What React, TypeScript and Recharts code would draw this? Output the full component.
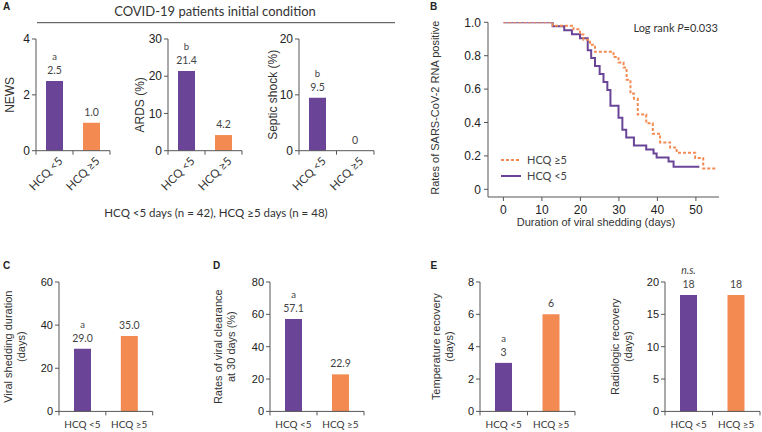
import React from "react";
import {
  BarChart, Bar, Cell, XAxis, YAxis, LabelList, LineChart, Line, Legend,
} from "recharts";

// groups and values
const groups = ["HCQ <5", "HCQ ≥5"];

const newsValues = [2.5, 1.0];
const ardsValues = [21.4, 4.2];
const septicValues = [9.5, 0];
const sheddingValues = [29.0, 35.0];
const clearanceValues = [57.1, 22.9];
const feverValues = [3, 6];
const radioValues = [18, 18];

const newsLabels = ["2.5", "1.0"];
const ardsLabels = ["21.4", "4.2"];
const septicLabels = ["9.5", "0"];
const sheddingLabels = ["29.0", "35.0"];
const clearanceLabels = ["57.1", "22.9"];
const feverLabels = ["3", "6"];
const radioLabels = ["18", "18"];

const newsMarks = ["a", ""];
const ardsMarks = ["b", ""];
const septicMarks = ["b", ""];
const sheddingMarks = ["a", ""];
const clearanceMarks = ["a", ""];
const feverMarks = ["a", ""];
const radioMarks = ["n.s.", ""];

const newsTicks = [0, 2, 4];
const ardsTicks = [0, 10, 20, 30];
const septicTicks = [0, 10, 20];
const sheddingTicks = [0, 20, 40, 60];
const clearanceTicks = [0, 20, 40, 60, 80];
const feverTicks = [0, 2, 4, 6, 8];
const radioTicks = [0, 5, 10, 15, 20];

// Kaplan-Meier steps (days, fraction still positive)
const lowDays = [0, 12.8, 15.8, 17.8, 19.9, 21.9, 22.8, 23.8, 25.0, 26.0, 27.0, 27.8, 29.9, 30.9, 31.9, 33.9, 37.1, 39.0, 39.8, 42.9, 44.2, 50.9];
const lowRates = [1.0, 0.976, 0.952, 0.929, 0.905, 0.833, 0.786, 0.738, 0.69, 0.643, 0.595, 0.5, 0.429, 0.357, 0.31, 0.262, 0.238, 0.214, 0.19, 0.167, 0.135, 0.135];
const highDays = [0, 12.8, 18.2, 19.9, 20.8, 22.5, 23.8, 28.6, 29.9, 31.2, 32.0, 33.0, 33.9, 34.9, 37.1, 38.8, 40.7, 43.3, 45.0, 49.8, 51.9, 55.2];
const highRates = [1.0, 0.979, 0.958, 0.927, 0.896, 0.865, 0.823, 0.792, 0.76, 0.729, 0.656, 0.573, 0.542, 0.448, 0.396, 0.333, 0.281, 0.25, 0.219, 0.188, 0.125, 0.125];
const kmDayTicks = [0, 10, 20, 30, 40, 50];
const kmRateTicks = [0, 0.2, 0.4, 0.6, 0.8, 1.0];

const PURPLE = "#6a4597";
const ORANGE = "#f28a52";
const INK = "#333";
const AXIS = "#555";
const ARIAL = "'Liberation Sans', Arial, sans-serif";
const HUMAN = "Lato, 'Noto Sans', sans-serif";

function CatTick(props: any) {
  const { x, y, payload, index, band, rotated, font } = props;
  const label = (
    rotated ? (
      <text x={x + 9} y={y + 11} transform={`rotate(-45 ${x + 9} ${y + 11})`}
        textAnchor="end" fontFamily={HUMAN} fontSize={font} fill={INK}>{payload.value}</text>
    ) : (
      <text x={x} y={y + 17} textAnchor="middle" fontFamily={HUMAN} fontSize={font} fill={INK}>{payload.value}</text>
    )
  );
  return (
    <g>
      <line x1={x - band / 2} x2={x - band / 2} y1={y} y2={y + 4} stroke={AXIS} />
      {index === 1 && <line x1={x + band / 2} x2={x + band / 2} y1={y} y2={y + 4} stroke={AXIS} />}
      {label}
    </g>
  );
}

function yTitle(lines: string[], dx: number, dy: number, font: number) {
  return (props: any) => {
    const vb = props.viewBox;
    const cx = vb.x + dx;
    const cy = vb.y + vb.height / 2 + dy;
    return (
      <text transform={`rotate(-90 ${cx} ${cy})`} x={cx} y={cy} textAnchor="middle"
        dominantBaseline="central" fontFamily={ARIAL} fontSize={font} fill={INK}>
        {lines.map((l, i) => (
          <tspan key={i} x={cx} dy={i === 0 ? 0 : font * 1.2}>{l}</tspan>
        ))}
      </text>
    );
  };
}

type PanelProps = {
  axisX: number; top: number; bottom: number; right: number;
  values: number[]; labels: string[]; marks: string[]; ticks: number[];
  title: string[]; titleX: number; titleDy?: number;
  rotated?: boolean; tickFont?: number; catFont?: number; titleFont?: number;
};

function BarPanel(p: PanelProps) {
  const YW = 60, MT = 30, MR = 6, XH = 50;
  const width = p.right - p.axisX + YW + MR;
  const height = p.bottom - p.top + MT + XH;
  const band = (p.right - p.axisX) / 2;
  const data = groups.map((g, i) => ({ g, v: p.values[i] }));
  const max = p.ticks[p.ticks.length - 1];
  const left = p.axisX - YW;
  const catFont = p.catFont ?? 10;
  return (
    <div style={{ position: "absolute", left, top: p.top - MT }}>
      <BarChart width={width} height={height} data={data} margin={{ top: MT, right: MR, left: 0, bottom: 0 }}>
        <XAxis dataKey="g" height={XH} tickSize={0} tickMargin={0} interval={0}
          axisLine={{ stroke: AXIS }}
          tick={(t: any) => <CatTick {...t} band={band} rotated={p.rotated} font={catFont} />} />
        <YAxis width={YW} type="number" domain={[0, max]} ticks={p.ticks} tickSize={4} tickMargin={2}
          axisLine={{ stroke: AXIS }} tickLine={{ stroke: AXIS }}
          tick={{ fill: "#222", fontSize: p.tickFont ?? 11, fontFamily: ARIAL }}
          label={yTitle(p.title, p.titleX - left, p.titleDy ?? 0, p.titleFont ?? 11)} />
        <Bar dataKey="v" barSize={17} minPointSize={0.01} isAnimationActive={false}>
          {data.map((d, i) => <Cell key={d.g} fill={i === 0 ? PURPLE : ORANGE} />)}
          <LabelList dataKey="v" content={(l: any) => {
            const cx = l.x + l.width / 2;
            const mark = p.marks[l.index];
            return (
              <g fontFamily={HUMAN} fill="#444" textAnchor="middle">
                <text x={cx} y={l.y - 7} fontSize={10.5}>{p.labels[l.index]}</text>
                {mark && <text x={cx} y={l.y - 21} fontSize={mark === "n.s." ? 10.5 : 9.5}
                  fontStyle={mark === "n.s." ? "italic" : "normal"}>{mark}</text>}
              </g>
            );
          }} />
        </Bar>
      </BarChart>
    </div>
  );
}

const lowData = lowDays.map((t, i) => ({ t, s: lowRates[i] }));
const highData = highDays.map((t, i) => ({ t, s: highRates[i] }));

function KmLegend(props: any) {
  const items = [...(props.payload || [])].reverse();
  return (
    <div style={{ fontFamily: HUMAN, fontSize: 11, color: "#444" }}>
      {items.map((it: any) => (
        <div key={it.value} style={{ display: "flex", alignItems: "center", height: 15.7 }}>
          <svg width={20} height={4} style={{ marginRight: 6 }}>
            <line x1={0} x2={20} y1={2} y2={2} stroke={it.color} strokeWidth={2}
              strokeDasharray={it.value === "HCQ ≥5" ? "3 2" : undefined} />
          </svg>
          <span>{it.value}</span>
        </div>
      ))}
    </div>
  );
}

function KmPanel() {
  return (
    <div style={{ position: "absolute", left: 420, top: 15 }}>
      <LineChart width={304} height={212} margin={{ top: 7.3, right: 5, left: 0, bottom: 0 }}>
        <XAxis dataKey="t" type="number" domain={[-4, 56]} ticks={kmDayTicks} height={30}
          tickSize={4} tickMargin={4} axisLine={{ stroke: AXIS }} tickLine={{ stroke: AXIS }}
          tick={{ fill: "#222", fontSize: 12, fontFamily: ARIAL }} allowDataOverflow />
        <YAxis type="number" domain={[-0.046, 1]} ticks={kmRateTicks} width={68}
          tickSize={4} tickMargin={3} axisLine={{ stroke: AXIS }} tickLine={{ stroke: AXIS }}
          tickFormatter={(v: number) => (v === 0 ? "0" : v.toFixed(1))}
          tick={{ fill: "#222", fontSize: 12, fontFamily: ARIAL }} allowDataOverflow
          label={yTitle(["Rates of SARS-CoV-2 RNA positive"], 15, -2, 11)} />
        <Line data={lowData} dataKey="s" name="HCQ <5" type="stepAfter" stroke={PURPLE}
          strokeWidth={2} dot={false} isAnimationActive={false} />
        <Line data={highData} dataKey="s" name="HCQ ≥5" type="stepAfter" stroke={ORANGE}
          strokeWidth={2} strokeDasharray="3 2" dot={false} isAnimationActive={false} />
        <Legend layout="vertical" align="center" verticalAlign="middle" content={<KmLegend />}
          wrapperStyle={{ left: 81, top: 137, width: 80 }} />
      </LineChart>
    </div>
  );
}

export default function App() {
  return (
    <div style={{ position: "absolute", left: 0, top: 0, width: 762, height: 432, background: "#fff", overflow: "hidden" }}>
      <BarPanel axisX={36} top={39.3} bottom={151} right={110} values={newsValues} labels={newsLabels}
        marks={newsMarks} ticks={newsTicks} title={["NEWS"]} titleX={10} rotated tickFont={12} catFont={11.5} titleFont={12} />
      <BarPanel axisX={168} top={39.3} bottom={151} right={242} values={ardsValues} labels={ardsLabels}
        marks={ardsMarks} ticks={ardsTicks} title={["ARDS (%)"]} titleX={140} titleDy={10} rotated tickFont={12} catFont={11.5} titleFont={12} />
      <BarPanel axisX={299} top={39.3} bottom={151} right={374} values={septicValues} labels={septicLabels}
        marks={septicMarks} ticks={septicTicks} title={["Septic shock (%)"]} titleX={273} rotated tickFont={12} catFont={11.5} titleFont={12} />

      <KmPanel />

      <BarPanel axisX={59.3} top={282.3} bottom={411.7} right={153} values={sheddingValues} labels={sheddingLabels}
        marks={sheddingMarks} ticks={sheddingTicks} title={["Viral shedding duration", "(days)"]} titleX={8.5} />
      <BarPanel axisX={270} top={282.3} bottom={411.7} right={364} values={clearanceValues} labels={clearanceLabels}
        marks={clearanceMarks} ticks={clearanceTicks} title={["Rates of viral clearance", "at 30 days (%)"]} titleX={218} />
      <BarPanel axisX={480} top={282.3} bottom={411.7} right={575} values={feverValues} labels={feverLabels}
        marks={feverMarks} ticks={feverTicks} title={["Temperature recovery", "(days)"]} titleX={436} />
      <BarPanel axisX={665} top={282.3} bottom={411.7} right={760} values={radioValues} labels={radioLabels}
        marks={radioMarks} ticks={radioTicks} title={["Radiologic recovery", "(days)"]} titleX={615} />

      <svg width={762} height={432} style={{ position: "absolute", left: 0, top: 0, pointerEvents: "none" }}>
        <g fontFamily={ARIAL} fontWeight="bold" fontSize={10} fill="#222">
          <text x={3} y={10}>A</text>
          <text x={430} y={10}>B</text>
          <text x={3} y={269}>C</text>
          <text x={213} y={269}>D</text>
          <text x={430.5} y={269}>E</text>
        </g>
        <text x={215} y={16} textAnchor="middle" fontFamily={HUMAN} fontSize={13} fill={INK}>
          COVID-19 patients initial condition
        </text>
        <line x1={37} x2={395} y1={22.7} y2={22.7} stroke="#444" strokeWidth={1} />
        <text x={216} y={217} textAnchor="middle" fontFamily={HUMAN} fontSize={11.5} fill={INK}>
          HCQ &lt;5 days (n = 42), HCQ ≥5 days (n = 48)
        </text>
        <text x={718} y={32} textAnchor="end" fontFamily={HUMAN} fontSize={11} fill={INK}>
          Log rank <tspan fontStyle="italic">P</tspan>=0.033
        </text>
        <text x={596} y={226} textAnchor="middle" fontFamily={ARIAL} fontSize={11} fill={INK}>
          Duration of viral shedding (days)
        </text>
      </svg>
    </div>
  );
}
